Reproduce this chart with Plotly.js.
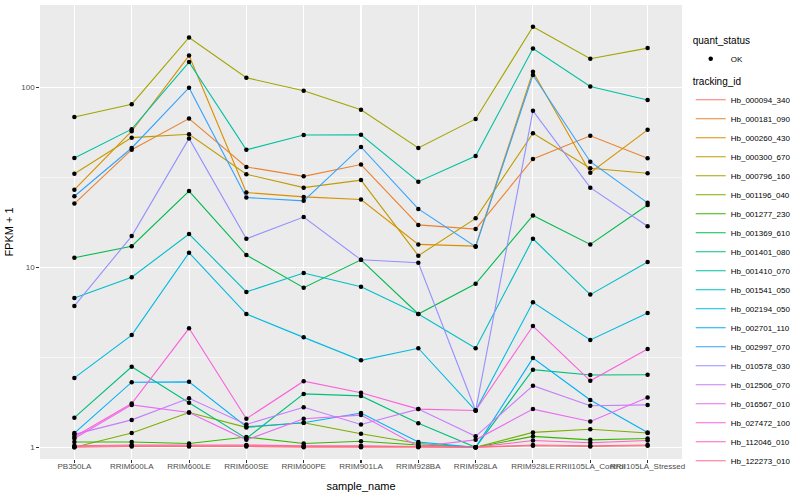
<!DOCTYPE html>
<html><head><meta charset="utf-8">
<script src="https://cdn.plot.ly/plotly-3.0.1.min.js"></script>
<style>html,body{margin:0;padding:0;background:#fff}#chart{width:800px;height:500px}</style>
</head><body><div id="chart"></div>
<script>
const samples = ["PB350LA","RRIM600LA","RRIM600LE","RRIM600SE","RRIM600PE","RRIM901LA","RRIM928BA","RRIM928LA","RRIM928LE","RRII105LA_Control","RRII105LA_Stressed"];
const trackingIds = ["Hb_000094_340","Hb_000181_090","Hb_000260_430","Hb_000300_670","Hb_000796_160","Hb_001196_040","Hb_001277_230","Hb_001369_610","Hb_001401_080","Hb_001410_070","Hb_001541_050","Hb_002194_050","Hb_002701_110","Hb_002997_070","Hb_010578_030","Hb_012506_070","Hb_016567_010","Hb_027472_100","Hb_112046_010","Hb_122273_010"];
const colors = ["#F8766D","#EA8331","#D89000","#C09B00","#A3A500","#7CAE00","#39B600","#00BB4E","#00BF7D","#00C1A3","#00BFC4","#00BAE0","#00B0F6","#35A2FF","#9590FF","#C77CFF","#E76BF3","#FA62DB","#FF62BC","#FF6C91"];
const yTickVals = [1, 10, 100];
const yTickText = ["1", "10", "100"];

const Hb_000094_340 = [1.0,1.01,1.01,1.01,1.0,1.0,1.0,1.0,1.02,1.01,1.02];
const Hb_000181_090 = [22.6,45,67,36.1,32,37.2,17.2,16.3,40,53.8,40.3];
const Hb_000260_430 = [27,57,150,26,24.6,23.8,13.4,13.1,122,33.5,58];
const Hb_000300_670 = [33.1,52.5,54.8,32.9,27.7,30.5,11.6,18.7,55.6,35.5,33.3];
const Hb_000796_160 = [68.4,80.5,189,113,95.7,75,46,66.7,217,144,165];
const Hb_001196_040 = [1.0,1.2,1.56,1.29,1.37,1.19,1.05,1.0,1.21,1.26,1.2];
const Hb_001277_230 = [1.07,1.07,1.05,1.14,1.05,1.08,1.03,1.0,1.15,1.1,1.12];
const Hb_001369_610 = [11.3,13.1,26.5,11.7,7.7,11.0,5.5,8.1,19.4,13.4,22.2];
const Hb_001401_080 = [1.46,2.8,1.77,1.12,1.98,1.93,1.36,1.0,2.7,2.52,2.53];
const Hb_001410_070 = [40.5,58.5,138,44.9,54.3,54.5,29.9,41.5,164,101,85];
const Hb_001541_050 = [6.75,8.8,15.3,7.3,9.3,7.8,5.5,3.55,14.4,7.05,10.7];
const Hb_002194_050 = [2.43,4.2,12.05,5.5,4.08,3.04,3.55,1.6,6.4,3.95,5.57];
const Hb_002701_110 = [1.2,2.3,2.31,1.3,1.37,1.55,1.07,1.0,3.13,1.83,1.21];
const Hb_002997_070 = [24.8,46,99.5,24.4,23.4,46.6,21.1,13.0,117,38.6,22.8];
const Hb_010578_030 = [6.1,14.9,52,14.4,19,11,10.6,1.6,74,27.7,16.9];
const Hb_012506_070 = [1.18,1.42,1.87,1.34,1.67,1.34,1.63,1.15,2.2,1.7,1.72];
const Hb_016567_010 = [1.12,1.72,1.56,1.1,1.44,1.51,1.01,1.1,1.63,1.39,1.89];
const Hb_027472_100 = [1.145,1.75,4.58,1.44,2.33,2.01,1.63,1.6,4.72,2.34,3.52];
const Hb_112046_010 = [1.02,1.03,1.03,1.03,1.02,1.02,1.01,1.0,1.09,1.06,1.09];
const Hb_122273_010 = [1.01,1.02,1.02,1.02,1.01,1.01,1.01,1.0,1.03,1.02,1.03];

const seriesValues = [Hb_000094_340,Hb_000181_090,Hb_000260_430,Hb_000300_670,Hb_000796_160,Hb_001196_040,Hb_001277_230,Hb_001369_610,Hb_001401_080,Hb_001410_070,Hb_001541_050,Hb_002194_050,Hb_002701_110,Hb_002997_070,Hb_010578_030,Hb_012506_070,Hb_016567_010,Hb_027472_100,Hb_112046_010,Hb_122273_010];

const FONT = 'Liberation Sans, Arial, Helvetica, sans-serif';
const traces = [];
trackingIds.forEach((id, i) => {
  traces.push({
    type: 'scatter', mode: 'lines', name: id,
    x: samples, y: seriesValues[i],
    line: {color: colors[i], width: 1.1},
    legend: 'legend2', hoverinfo: 'name+x+y'
  });
});
const allX = [], allY = [];
seriesValues.forEach(v => { v.forEach((val, j) => { allX.push(samples[j]); allY.push(val); }); });
traces.push({
  type: 'scatter', mode: 'markers', name: 'OK',
  x: allX, y: allY,
  marker: {color: '#000', size: 4.5, symbol: 'circle'},
  legend: 'legend'
});

const layout = {
  width: 800, height: 500,
  margin: {l: 40, r: 116.5, t: 5, b: 41, pad: 0},
  paper_bgcolor: '#FFFFFF', plot_bgcolor: '#EBEBEB',
  font: {family: FONT, size: 8, color: '#4D4D4D'},
  showlegend: true,
  xaxis: {
    type: 'category', categoryorder: 'array', categoryarray: samples,
    range: [-0.6, 10.6], showgrid: true, gridcolor: '#FFFFFF', gridwidth: 1.07,
    zeroline: false, showline: false, ticks: 'outside', ticklen: 2.7, tickwidth: 1.07, tickcolor: '#333333',
    tickangle: 0, ticklabelstandoff: -3, tickfont: {family: FONT, size: 8, color: '#4D4D4D'},
    title: {text: 'sample_name', font: {family: FONT, size: 11, color: '#000'}, standoff: 12}
  },
  yaxis: {
    type: 'log', range: [-0.065, 2.457],
    tickmode: 'array', tickvals: yTickVals, ticktext: yTickText,
    showgrid: true, gridcolor: '#FFFFFF', gridwidth: 1.07,
    minor: {tickmode: 'array', tickvals: [3.1623, 31.623], showgrid: true, gridcolor: '#FFFFFF', gridwidth: 0.53, ticks: ''},
    zeroline: false, showline: false, ticks: 'outside', ticklen: 2.7, tickwidth: 1.07, tickcolor: '#333333',
    tickfont: {family: FONT, size: 8, color: '#4D4D4D'},
    title: {text: 'FPKM + 1', font: {family: FONT, size: 11, color: '#000'}, standoff: 5}
  },
  legend: {
    title: {text: 'quant_status', font: {family: FONT, size: 10, color: '#000'}},
    x: 1.012, xanchor: 'left', y: 0.942, yanchor: 'top',
    bgcolor: 'rgba(0,0,0,0)', font: {family: FONT, size: 8, color: '#000'}, itemwidth: 30
  },
  legend2: {
    title: {text: 'tracking_id', font: {family: FONT, size: 10, color: '#000'}},
    x: 1.012, xanchor: 'left', y: 0.852, yanchor: 'top',
    bgcolor: 'rgba(0,0,0,0)', font: {family: FONT, size: 8, color: '#000'}, itemwidth: 30
  }
};
Plotly.newPlot('chart', traces, layout, {displayModeBar: false, staticPlot: true});
</script></body></html>
